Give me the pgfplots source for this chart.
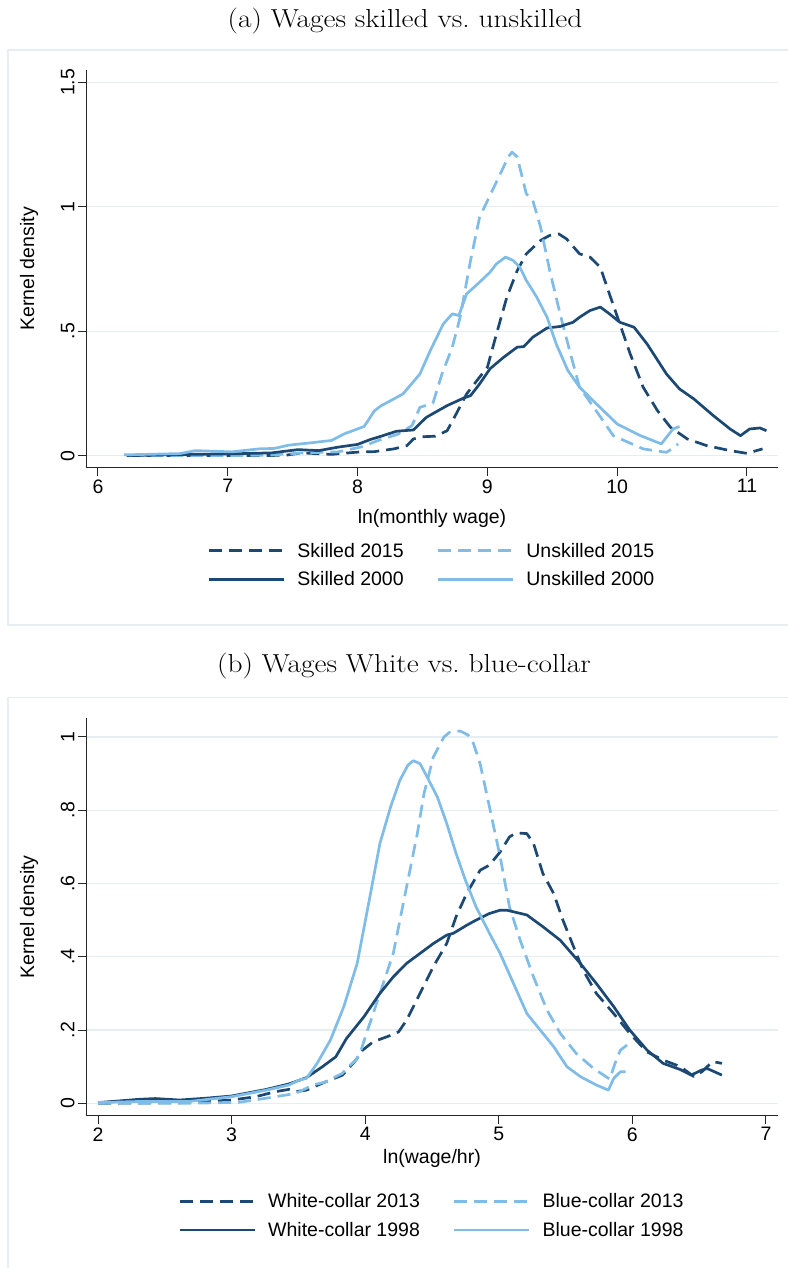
\documentclass[border=0pt]{standalone}
\usepackage{pgfplots}
\pgfplotsset{compat=1.18}
\usepackage{graphicx}
\usepackage{fontspec}
\setsansfont{Liberation Sans}
\definecolor{dk}{HTML}{1B4973}
\definecolor{lt}{HTML}{80BCE8}
\definecolor{gridc}{HTML}{E6EEF1}
\newcommand{\stfont}{\sffamily\fontsize{19.5}{21}\selectfont}
\pgfplotsset{stata/.style={
  scale only axis, width=692pt, height=398pt,
  axis x line*=bottom, axis y line*=left,
  axis line style={-, black!85, line width=1pt},
  tick align=outside, major tick length=8pt,
  tick style={black!85, line width=1pt},
  ymajorgrids, grid style={gridc, line width=1.3pt},
  ticklabel style={font=\stfont},
  yticklabel style={rotate=90, anchor=south},
  label style={font=\stfont},
  legend columns=2,
  legend cell align=left,
  legend style={draw=none, fill=none, font=\stfont, anchor=north,
    row sep=9pt,
    /tikz/every even column/.append style={column sep=31pt}},
  legend image code/.code={\draw[#1, line width=2.7pt] (0pt,0.3pt) -- (75pt,0.3pt); \path (85pt,0pt);},
  every axis plot/.append style={line width=2.7pt, line join=round},
  dsh/.style={dash pattern=on 13pt off 7pt},
}}
\begin{document}
\begin{tikzpicture}
\path[use as bounding box] (0pt,0pt) rectangle (787pt,1268pt);
\draw[gridc, line width=1.5pt] (8pt,1218pt) rectangle (792pt,643pt);
\draw[gridc, line width=1.5pt] (8pt,570.3pt) rectangle (792pt,-10pt);
\node[font=\fontsize{26}{28}\selectfont] at (405pt,1247pt) {\scalebox{1.13}[1]{(a) Wages skilled vs.\ unskilled}};
\node[font=\fontsize{26}{28}\selectfont] at (404pt,602pt) {\scalebox{1.13}[1]{(b) Wages White vs.\ blue-collar}};

% Panel (a)
\begin{axis}[stata, at={(86pt,800pt)}, anchor=south west,
  xmin=5.9076, xmax=11.239, ymin=-0.0498, ymax=1.550,
  xtick={6,7,8,9,10,11}, xticklabels={6,7,8,9,10,11},
  ytick={0,0.5,1,1.5}, yticklabels={0,.5,1,1.5},
  xlabel={ln(monthly wage)}, ylabel={Kernel density},
  xlabel style={at={(axis description cs:0.5,-0.128)}, anchor=center},
  ylabel style={at={(axis description cs:-0.0824,0.5)}, anchor=center},
  legend style={at={(0.5,-0.178)}}]
\addplot[dk, dsh] coordinates {
(6.22,0.000) (6.50,0.000) (7.03,0.000) (7.44,0.001) (7.57,0.011) (7.80,0.005)
(8.00,0.014) (8.13,0.016) (8.28,0.027) (8.38,0.040) (8.43,0.067) (8.51,0.076)
(8.60,0.078) (8.69,0.100) (8.76,0.168) (8.84,0.248) (8.92,0.302) (9.00,0.355)
(9.07,0.489) (9.15,0.637) (9.23,0.744) (9.30,0.811) (9.41,0.865) (9.48,0.885)
(9.55,0.891) (9.61,0.871) (9.71,0.811) (9.79,0.798) (9.87,0.757) (9.94,0.650)
(10.02,0.530) (10.10,0.409) (10.20,0.275) (10.31,0.181) (10.41,0.114) (10.54,0.067)
(10.69,0.040) (10.87,0.020) (11.00,0.009) (11.12,0.027)};
\addlegendentry{Skilled 2015}
\addplot[lt, dsh] coordinates {
(6.25,0.000) (6.65,0.000) (7.29,0.001) (7.59,0.011) (7.85,0.015) (8.03,0.035)
(8.16,0.061) (8.31,0.086) (8.42,0.121) (8.48,0.194) (8.58,0.210) (8.65,0.328)
(8.73,0.436) (8.79,0.556) (8.87,0.784) (8.94,0.958) (9.02,1.046) (9.10,1.133)
(9.16,1.200) (9.19,1.220) (9.23,1.200) (9.30,1.052) (9.35,1.025) (9.41,0.918)
(9.48,0.744) (9.56,0.570) (9.64,0.409) (9.71,0.275) (9.82,0.194) (9.97,0.080)
(10.20,0.027) (10.38,0.013) (10.42,0.027) (10.47,0.047)};
\addlegendentry{Unskilled 2015}
\addplot[dk] coordinates {
(6.25,0.000) (6.70,0.005) (7.03,0.007) (7.34,0.011) (7.54,0.024) (7.70,0.020)
(7.85,0.034) (8.00,0.045) (8.10,0.065) (8.17,0.076) (8.30,0.098) (8.43,0.103)
(8.53,0.154) (8.69,0.201) (8.82,0.232) (8.87,0.241) (8.94,0.288) (9.02,0.349)
(9.12,0.393) (9.23,0.436) (9.28,0.438) (9.35,0.476) (9.46,0.513) (9.56,0.519)
(9.66,0.536) (9.71,0.556) (9.79,0.583) (9.87,0.597) (9.94,0.570) (10.02,0.536)
(10.13,0.516) (10.23,0.449) (10.38,0.328) (10.48,0.268) (10.59,0.228) (10.74,0.161)
(10.87,0.107) (10.95,0.080) (11.02,0.107) (11.10,0.111) (11.15,0.100)};
\addlegendentry{Skilled 2000}
\addplot[lt] coordinates {
(6.20,0.003) (6.63,0.008) (6.75,0.020) (7.03,0.015) (7.24,0.027) (7.36,0.029)
(7.47,0.042) (7.65,0.052) (7.80,0.061) (7.90,0.088) (8.05,0.117) (8.13,0.180)
(8.18,0.200) (8.28,0.228) (8.35,0.248) (8.48,0.328) (8.56,0.422) (8.66,0.529)
(8.73,0.570) (8.78,0.563) (8.84,0.650) (8.94,0.697) (9.02,0.737) (9.07,0.771)
(9.14,0.798) (9.20,0.784) (9.25,0.757) (9.30,0.704) (9.38,0.637) (9.46,0.556)
(9.53,0.449) (9.62,0.342) (9.71,0.275) (9.84,0.208) (10.00,0.127) (10.18,0.080)
(10.34,0.047) (10.43,0.107) (10.48,0.117)};
\addlegendentry{Unskilled 2000}
\end{axis}

% Panel (b)
\begin{axis}[stata, at={(86pt,152pt)}, anchor=south west,
  xmin=1.910, xmax=7.090, ymin=-0.0346, ymax=1.0515,
  xtick={2,3,4,5,6,7}, xticklabels={2,3,4,5,6,7},
  ytick={0,0.2,0.4,0.6,0.8,1}, yticklabels={0,.2,.4,.6,.8,1},
  xlabel={ln(wage/hr)}, ylabel={Kernel density},
  xlabel style={at={(axis description cs:0.5,-0.106)}, anchor=center},
  ylabel style={at={(axis description cs:-0.0824,0.5)}, anchor=center},
  legend style={at={(0.5,-0.185)}}]
\addplot[dk, dsh] coordinates {
(2.00,0.000) (2.68,0.002) (3.00,0.009) (3.18,0.018) (3.33,0.032) (3.43,0.038)
(3.48,0.032) (3.56,0.036) (3.68,0.055) (3.83,0.077) (3.93,0.118) (3.98,0.145)
(4.06,0.168) (4.18,0.184) (4.25,0.195) (4.31,0.227) (4.41,0.300) (4.51,0.373)
(4.61,0.436) (4.68,0.509) (4.76,0.573) (4.86,0.636) (4.93,0.650) (5.01,0.686)
(5.08,0.727) (5.13,0.738) (5.21,0.736) (5.26,0.709) (5.33,0.627) (5.41,0.573)
(5.48,0.500) (5.56,0.427) (5.63,0.364) (5.73,0.300) (5.86,0.245) (5.98,0.191)
(6.11,0.140) (6.23,0.118) (6.36,0.100) (6.46,0.073) (6.52,0.086) (6.60,0.114)
(6.67,0.109)};
\addlegendentry{White-collar 2013}
\addplot[lt, dsh] coordinates {
(2.00,0.000) (2.68,0.000) (3.06,0.003) (3.26,0.014) (3.48,0.027) (3.61,0.050)
(3.70,0.058) (3.83,0.082) (3.86,0.095) (3.93,0.118) (3.96,0.136) (4.01,0.191)
(4.11,0.300) (4.21,0.409) (4.31,0.591) (4.39,0.736) (4.44,0.845) (4.51,0.945)
(4.59,1.000) (4.63,1.012) (4.71,1.016) (4.77,1.005) (4.81,0.982) (4.86,0.927)
(4.93,0.809) (5.01,0.673) (5.08,0.536) (5.16,0.445) (5.26,0.345) (5.36,0.255)
(5.46,0.191) (5.58,0.136) (5.71,0.095) (5.83,0.066) (5.87,0.109) (5.91,0.145)
(5.96,0.159)};
\addlegendentry{Blue-collar 2013}
\addplot[dk] coordinates {
(2.00,0.002) (2.31,0.011) (2.43,0.013) (2.61,0.009) (2.81,0.014) (3.00,0.020)
(3.26,0.038) (3.43,0.053) (3.56,0.070) (3.68,0.100) (3.78,0.127) (3.86,0.177)
(3.99,0.236) (4.11,0.300) (4.21,0.345) (4.31,0.382) (4.41,0.409) (4.51,0.436)
(4.61,0.459) (4.66,0.464) (4.76,0.486) (4.83,0.500) (4.93,0.518) (5.01,0.527)
(5.06,0.527) (5.21,0.514) (5.33,0.482) (5.46,0.445) (5.61,0.382) (5.73,0.327)
(5.86,0.264) (5.98,0.200) (6.11,0.145) (6.23,0.109) (6.36,0.092) (6.44,0.077)
(6.52,0.091) (6.56,0.095) (6.67,0.077)};
\addlegendentry{White-collar 1998}
\addplot[lt] coordinates {
(2.00,0.002) (2.31,0.005) (2.68,0.005) (3.00,0.018) (3.26,0.036) (3.43,0.050)
(3.51,0.064) (3.56,0.068) (3.64,0.109) (3.74,0.173) (3.84,0.264) (3.94,0.382)
(4.04,0.573) (4.11,0.709) (4.19,0.809) (4.26,0.882) (4.32,0.923) (4.36,0.935)
(4.41,0.927) (4.47,0.886) (4.54,0.836) (4.61,0.764) (4.68,0.682) (4.75,0.609)
(4.83,0.536) (4.93,0.464) (5.01,0.409) (5.11,0.327) (5.21,0.245) (5.31,0.200)
(5.41,0.155) (5.51,0.100) (5.61,0.073) (5.73,0.050) (5.82,0.036) (5.86,0.068)
(5.91,0.086) (5.95,0.086)};
\addlegendentry{Blue-collar 1998}
\end{axis}
\end{tikzpicture}
\end{document}
